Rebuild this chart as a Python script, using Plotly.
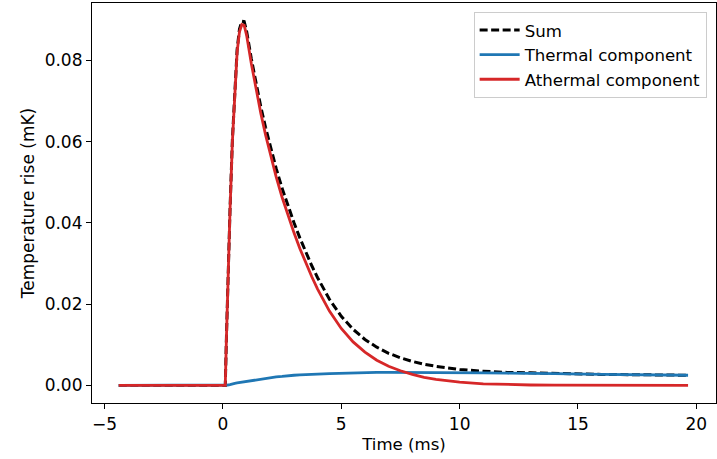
import plotly.graph_objects as go

time_ms = [-4.4, 0.1, 0.15, 0.2, 0.3, 0.4, 0.5, 0.6, 0.7, 0.8, 0.9, 1.0, 1.2, 1.4, 1.6, 1.8,
           2.0, 2.25, 2.5, 2.75, 3.0, 3.25, 3.5, 3.75, 4.0, 4.5, 5.0, 5.5, 6.0, 6.5, 7.0,
           7.5, 8.0, 8.5, 9.0, 10, 11, 12, 13, 14, 16, 18, 19.65]

athermal = [0, 0, 0.012, 0.023, 0.043, 0.060, 0.073, 0.082, 0.0870, 0.0888, 0.0886, 0.0862,
            0.0792, 0.0728, 0.0670, 0.0617, 0.0568, 0.0513, 0.0463, 0.0418, 0.0376, 0.0337,
            0.0301, 0.0268, 0.0237, 0.0183, 0.0140, 0.0107, 0.0082, 0.0062, 0.0047, 0.0036,
            0.0027, 0.0020, 0.0015, 0.0008, 0.0004, 0.0002, 0.0001, 0.00005, 0.00001, 0, 0]

thermal = [0, 0, 0.00005, 0.0001, 0.0002, 0.0004, 0.0005, 0.0006, 0.0007, 0.0008, 0.0009,
           0.0010, 0.0012, 0.0014, 0.0016, 0.0018, 0.0019, 0.0021, 0.0022, 0.0024, 0.0025,
           0.0026, 0.0027, 0.0027, 0.0028, 0.0029, 0.0030, 0.0031, 0.0031, 0.0032, 0.0032,
           0.0032, 0.0032, 0.0032, 0.0032, 0.0031, 0.0031, 0.0030, 0.0030, 0.0029, 0.0027,
           0.0026, 0.0025]

total = [a + b for a, b in zip(athermal, thermal)]

x_ticks = [-5, 0, 5, 10, 15, 20]
x_labels = ["\u22125", "0", "5", "10", "15", "20"]
y_ticks = [0.0, 0.02, 0.04, 0.06, 0.08]

FONT = "DejaVu Sans"
FS = 16.6

fig = go.Figure()
fig.add_trace(go.Scatter(x=time_ms, y=total, mode="lines", name="Sum",
                         line=dict(color="black", width=3, dash="8px,3.5px")))
fig.add_trace(go.Scatter(x=time_ms, y=thermal, mode="lines", name="Thermal component",
                         line=dict(color="#1f77b4", width=2.8)))
fig.add_trace(go.Scatter(x=time_ms, y=athermal, mode="lines", name="Athermal component",
                         line=dict(color="#d62728", width=2.8)))

axis_common = dict(showline=True, mirror=True, linecolor="black", linewidth=1.2,
                   ticks="outside", ticklen=5, tickwidth=1.2, tickcolor="black",
                   showgrid=False, zeroline=False,
                   tickfont=dict(family=FONT, size=17, color="black"))

fig.update_xaxes(range=[-5.53, 20.83], tickvals=x_ticks, ticktext=x_labels,
                 title=dict(text="Time (ms)", font=dict(family=FONT, size=FS, color="black"), standoff=5),
                 **axis_common)
fig.update_yaxes(range=[-0.00433, 0.0941], tickvals=y_ticks, tickformat=".2f",
                 title=dict(text="Temperature rise (mK)", font=dict(family=FONT, size=17, color="black"), standoff=5),
                 **axis_common)

fig.update_layout(
    width=717, height=459,
    margin=dict(l=92, r=1, t=3, b=56, autoexpand=False),
    plot_bgcolor="white", paper_bgcolor="white",
    font=dict(family=FONT, size=FS, color="black"),
    legend=dict(x=0.985, y=0.978, xanchor="right", yanchor="top",
                bgcolor="rgba(255,255,255,0.8)", bordercolor="#cccccc", borderwidth=1,
                font=dict(family=FONT, size=FS, color="black"),
                tracegroupgap=0, itemwidth=40),
    showlegend=True,
)

fig.write_html("out.html")
